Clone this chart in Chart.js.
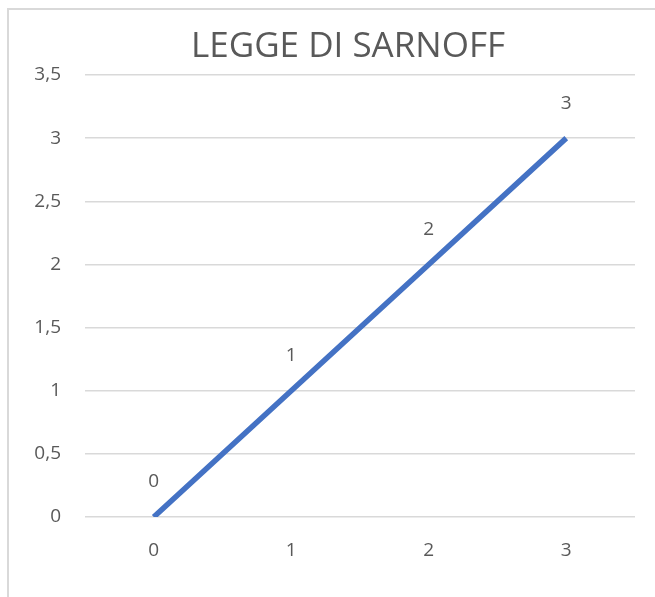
<!DOCTYPE html>
<html>
<head>
<meta charset="utf-8">
<script src="https://cdn.jsdelivr.net/npm/chart.js@4/dist/chart.umd.min.js"></script>
<style>
  html, body { margin: 0; padding: 0; background: #fff; }
  #wrap { position: relative; width: 655px; height: 597px; }
  #frame { position: absolute; left: 7px; top: 8px; right: 0; bottom: 0;
           border-left: 2px solid #d9d9d9; border-top: 2px solid #d9d9d9; }
  canvas { position: absolute; left: 0; top: 0; }
</style>
</head>
<body>
<div id="wrap">
  <div id="frame"></div>
  <canvas id="chart" width="655" height="597"></canvas>
</div>
<script>
var chartTitle = 'LEGGE DI SARNOFF';
var categories = ['0', '1', '2', '3'];
var values = [0, 1, 2, 3];
var yMin = 0;
var yMax = 3.5;
var yStep = 0.5;

var textColor = '#595959';
var fontFamily = '"Open Sans", "Noto Sans", sans-serif';

// labels above each point, taken from the dataset values
var pointLabels = {
  id: 'pointLabels',
  afterLayout: function(chart) {
    // centre the title a bit right of the canvas middle, as in the original
    if (chart.titleBlock) {
      chart.titleBlock.left = 61;
      chart.titleBlock.width = chart.titleBlock.right - 61;
    }
  },
  afterDatasetsDraw: function(chart) {
    var ctx = chart.ctx;
    var meta = chart.getDatasetMeta(0);
    ctx.save();
    ctx.fillStyle = textColor;
    ctx.font = '19px ' + fontFamily;
    ctx.textAlign = 'center';
    ctx.textBaseline = 'middle';
    meta.data.forEach(function(pt, i) {
      ctx.fillText(String(values[i]), pt.x, pt.y - 35);
    });
    ctx.restore();
  }
};

new Chart(document.getElementById('chart'), {
  type: 'line',
  data: {
    labels: categories,
    datasets: [{
      data: values,
      borderColor: '#4472c4',
      backgroundColor: '#4472c4',
      borderWidth: 5.5,
      pointRadius: 0,
      fill: false,
      tension: 0
    }]
  },
  options: {
    responsive: false,
    animation: false,
    layout: { padding: { left: 0, right: 20, top: 0, bottom: 0 } },
    plugins: {
      legend: { display: false },
      tooltip: { enabled: false },
      title: {
        display: true,
        text: chartTitle,
        color: textColor,
        font: { family: fontFamily, size: 35, weight: 'normal' },
        padding: { top: 26, bottom: 7 }
      }
    },
    scales: {
      x: {
        offset: true,
        grid: { display: false, drawTicks: false },
        border: { display: false },
        ticks: { color: textColor, font: { family: fontFamily, size: 19 }, padding: 22 },
        afterFit: function(scale) { scale.height = 80; }
      },
      y: {
        min: yMin,
        max: yMax,
        grid: { color: '#d9d9d9', lineWidth: 1.5, drawTicks: false },
        border: { display: false },
        ticks: {
          stepSize: yStep,
          color: textColor,
          font: { family: fontFamily, size: 19 },
          padding: 24,
          callback: function(v) { return String(v).replace('.', ','); }
        },
        afterFit: function(scale) { scale.width = 85; }
      }
    }
  },
  plugins: [pointLabels]
});
</script>
</body>
</html>
